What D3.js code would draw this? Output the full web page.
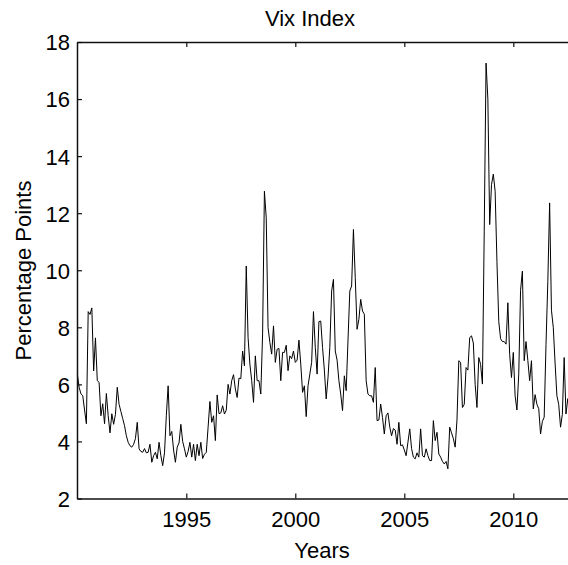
<!DOCTYPE html>
<html>
<head>
<meta charset="utf-8">
<script src="https://cdn.jsdelivr.net/npm/d3@7"></script>
<style>
  html, body { margin: 0; padding: 0; background: #fff; }
  svg { display: block; }
  text { font-family: "Liberation Sans", Arial, Helvetica, sans-serif; fill: #000; }
</style>
</head>
<body>
<svg id="chart" width="568" height="565"></svg>
<script>
// Month-end VIX level scaled to monthly percentage points, one array per year (Jan..Dec)
const vix1990 = [6.36, 5.9, 5.67, 5.6, 5.1, 4.62, 8.55, 8.45, 8.68, 6.47, 7.63, 6.13];
const vix1991 = [6.07, 4.9, 5.32, 4.62, 5.68, 4.9, 4.3, 4.97, 4.6, 4.95, 5.9, 5.3];
const vix1992 = [5.05, 4.8, 4.55, 4.2, 3.97, 3.85, 3.8, 3.9, 4.1, 4.67, 3.74, 3.65];
const vix1993 = [3.62, 3.75, 3.6, 3.62, 3.9, 3.27, 3.5, 3.62, 3.39, 3.97, 3.5, 3.15];
const vix1994 = [3.6, 4.9, 5.95, 4.2, 4.35, 3.7, 3.27, 3.8, 3.95, 4.6, 4.0, 3.74];
const vix1995 = [3.45, 3.65, 3.97, 3.45, 3.9, 3.33, 3.9, 3.5, 3.97, 3.4, 3.55, 3.62];
const vix1996 = [4.5, 5.4, 4.67, 4.9, 4.03, 5.63, 4.97, 5.0, 5.25, 4.96, 5.1, 6.0];
const vix1997 = [5.66, 6.13, 6.34, 5.84, 5.54, 6.22, 6.2, 7.17, 6.65, 10.15, 7.64, 6.71];
const vix1998 = [6.13, 5.37, 7.0, 6.13, 6.13, 5.66, 7.77, 12.77, 11.84, 7.99, 7.47, 7.06];
const vix1999 = [8.05, 6.77, 7.23, 7.26, 6.13, 7.12, 7.12, 7.37, 6.48, 7.0, 6.9, 7.17];
const vix2000 = [6.77, 6.85, 7.55, 6.71, 5.72, 5.95, 4.87, 5.95, 6.36, 6.77, 8.55, 7.29];
const vix2001 = [6.36, 8.2, 8.22, 7.29, 6.5, 5.49, 6.24, 7.3, 9.27, 9.68, 7.17, 6.85];
const vix2002 = [6.13, 5.66, 5.08, 6.3, 5.78, 7.52, 9.27, 9.45, 11.43, 9.74, 7.93, 8.28];
const vix2003 = [8.98, 8.57, 8.46, 6.13, 5.66, 5.6, 5.6, 5.37, 6.59, 4.73, 4.75, 5.31];
const vix2004 = [4.84, 4.26, 4.9, 5.0, 4.5, 4.2, 4.45, 4.4, 3.9, 4.67, 3.85, 3.88];
const vix2005 = [3.7, 3.5, 3.97, 4.44, 3.75, 3.45, 3.39, 3.6, 3.45, 4.44, 3.5, 3.45];
const vix2006 = [3.74, 3.5, 3.33, 3.33, 4.73, 4.03, 4.32, 3.56, 3.45, 3.3, 3.21, 3.3];
const vix2007 = [3.04, 4.5, 4.3, 4.1, 3.8, 4.75, 6.83, 6.77, 5.19, 5.3, 6.59, 6.5];
const vix2008 = [7.64, 7.7, 7.45, 6.0, 5.19, 6.94, 6.7, 6.01, 11.37, 17.26, 16.0, 11.6];
const vix2009 = [13.0, 13.37, 12.77, 10.3, 8.2, 7.6, 7.5, 7.5, 7.41, 8.86, 7.05, 6.24];
const vix2010 = [7.12, 5.6, 5.1, 6.37, 9.3, 9.97, 6.83, 7.5, 6.84, 6.13, 6.83, 5.14];
const vix2011 = [5.64, 5.3, 5.15, 4.26, 4.7, 4.85, 7.4, 9.6, 12.36, 8.6, 8.0, 6.75];
const vix2012 = [5.6, 5.3, 4.5, 4.95, 6.94, 4.96, 5.5, 5.08];

const firstYear = 1990;
const xTickValues = [1995, 2000, 2005, 2010];
const yTickValues = [2, 4, 6, 8, 10, 12, 14, 16, 18];
const titleText = "Vix Index";
const xLabelText = "Years";
const yLabelText = "Percentage Points";

// Flatten the yearly arrays into a monthly series
const yearArrays = [vix1990, vix1991, vix1992, vix1993, vix1994, vix1995, vix1996, vix1997,
                    vix1998, vix1999, vix2000, vix2001, vix2002, vix2003, vix2004, vix2005,
                    vix2006, vix2007, vix2008, vix2009, vix2010, vix2011, vix2012];
const series = [];
yearArrays.forEach((arr, yi) => arr.forEach((v, m) => series.push({ t: firstYear + yi + m / 12, v })));

const svg = d3.select("#chart");
const fontSize = 22;

// Axes box (right side runs past the visible area)
const plotLeft = 77, plotTop = 42, plotBottom = 498.5, perYear = 21.8;
const x = d3.scaleLinear().domain([1990, 2013]).range([plotLeft + 0.3, plotLeft + 0.3 + 23 * perYear]);
const y = d3.scaleLinear().domain([2, 18]).range([plotBottom, plotTop]);

const axisColor = "#111";

// Data line
const line = d3.line().x(d => x(d.t)).y(d => y(d.v));
svg.append("path")
  .datum(series)
  .attr("fill", "none")
  .attr("stroke", "#000")
  .attr("stroke-width", 1)
  .attr("d", line);

function styleAxis(g) {
  g.attr("font-family", null).attr("font-size", null);
  g.selectAll(".domain").attr("stroke", axisColor).attr("stroke-width", 1.5);
  g.selectAll(".tick line").attr("stroke", axisColor).attr("stroke-width", 1.2);
  g.selectAll("text")
    .attr("font-size", fontSize)
    .attr("fill", "#000");
}

// Left axis with inward ticks
svg.append("g")
  .attr("transform", `translate(${plotLeft},0)`)
  .call(d3.axisLeft(y).tickValues(yTickValues).tickFormat(d3.format("d"))
    .tickSizeInner(-5).tickSizeOuter(0).tickPadding(7))
  .call(styleAxis)
  .selectAll("text").attr("dy", "0.36em");

// Bottom axis
svg.append("g")
  .attr("transform", `translate(0,${plotBottom})`)
  .call(d3.axisBottom(x).tickValues(xTickValues).tickFormat(d3.format("d"))
    .tickSizeInner(-5).tickSizeOuter(0).tickPadding(13))
  .call(styleAxis);

// Top axis (ticks only)
svg.append("g")
  .attr("transform", `translate(0,${plotTop})`)
  .call(d3.axisTop(x).tickValues(xTickValues).tickFormat("")
    .tickSizeInner(-5).tickSizeOuter(0))
  .call(styleAxis);

// Titles
svg.append("text")
  .attr("x", 310).attr("y", 26)
  .attr("text-anchor", "middle")
  .attr("font-size", fontSize)
  .text(titleText);

svg.append("text")
  .attr("x", 322).attr("y", 558)
  .attr("text-anchor", "middle")
  .attr("font-size", fontSize)
  .text(xLabelText);

svg.append("text")
  .attr("transform", "translate(31,270.5) rotate(-90)")
  .attr("text-anchor", "middle")
  .attr("font-size", fontSize)
  .text(yLabelText);
</script>
</body>
</html>
